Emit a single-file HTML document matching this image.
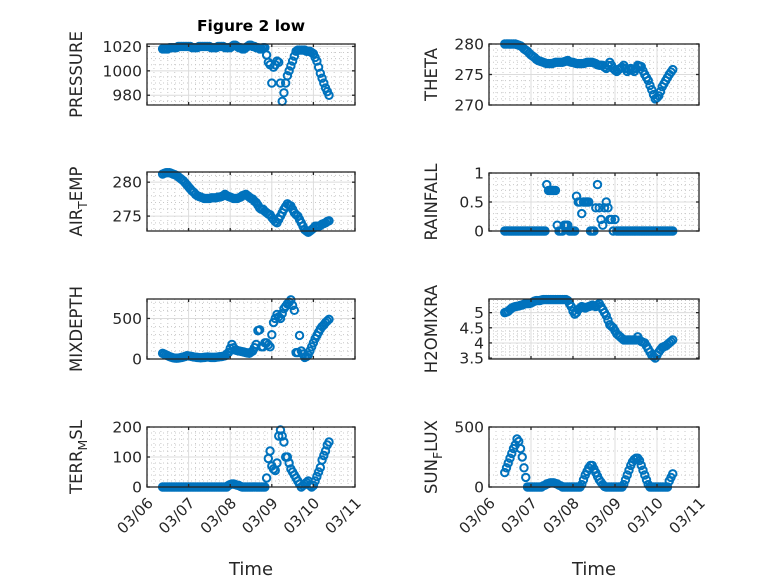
<!DOCTYPE html>
<html><head><meta charset="utf-8"><style>
html,body{margin:0;padding:0;background:#fff;}
svg{display:block;font-family:"DejaVu Sans","Liberation Sans",sans-serif;}
</style></head><body>
<svg id="fig" width="778" height="583" viewBox="0 0 778 583" xmlns="http://www.w3.org/2000/svg">
<rect width="778" height="583" fill="#fff"/>
<text x="251" y="31" text-anchor="middle" font-size="15.5" font-weight="bold" fill="#000">Figure 2 low</text>
</svg>
<script>
const hours = [9,10,11,12,13,14,15,16,17,18,19,20,21,22,23,24,25,26,27,28,29,30,31,32,33,34,35,36,37,38,39,40,41,42,43,44,45,46,47,48,49,50,51,52,53,54,55,56,57,58,59,60,61,62,63,64,65,66,67,68,69,70,71,72,73,74,75,76,77,78,79,80,81,82,83,84,85,86,87,88,89,90,91,92,93,94,95,96,97,98,99,100,101,102,103,104,105];
const xTickLabels = ["03/06","03/07","03/08","03/09","03/10","03/11"];
const pressure = [1018,1018,1018,1018,1019,1019,1019,1019,1019,1020,1020,1020,1020,1020,1020,1020,1020,1019,1019,1019,1019,1020,1020,1020,1020,1020,1020,1020,1019,1019,1019,1019,1020,1020,1020,1020,1019,1019,1019,1019,1020,1021,1021,1020,1019,1019,1018,1018,1019,1020,1021,1021,1020,1020,1019,1019,1018,1018,1019,1019,1013,1007,1005,990,1003,1005,1008,1007,990,975,982,990,996,1000,1004,1008,1012,1016,1017,1017,1017,1017,1017,1016,1016,1016,1015,1014,1011,1008,1003,998,994,990,986,983,980];
const theta = [280,280,280,280,280,280,280,279.9,279.8,279.7,279.5,279.2,279,278.8,278.5,278.2,278,277.8,277.5,277.3,277.2,277.1,277,276.9,276.8,276.8,276.8,276.8,276.9,277,277,277,277,277,277.1,277.2,277.3,277.1,277,277,276.9,276.8,276.8,276.8,276.8,276.8,276.9,277,277,277,277,276.9,276.8,276.6,276.5,276.5,276.5,276.2,276,276.5,277,276.5,276,275.7,275.5,275.8,276,276.2,276.5,276,275.5,275.8,276,275.8,275.5,276,276.5,276.4,276.3,275.6,275,274.5,274,273.2,272.5,271.7,271,271.2,271.5,272.2,273,273.5,274,274.5,275,275.4,275.8];
const airTemp = [281.2,281.3,281.4,281.4,281.4,281.3,281.2,281.1,281,280.8,280.6,280.4,280.2,279.9,279.6,279.3,279,278.7,278.5,278.2,278,277.9,277.8,277.7,277.6,277.6,277.6,277.6,277.7,277.7,277.7,277.7,277.8,277.8,277.9,278,278.2,278,277.9,277.8,277.7,277.6,277.6,277.6,277.7,277.8,278,278.1,278.2,278,277.8,277.6,277.5,277.2,277,276.6,276.2,276,276,275.7,275.5,275.3,275.2,274.8,274.5,274.2,274,274.5,275,275.5,276,276.4,276.8,276.6,276.5,276,275.5,275.2,275,274.5,274,273.5,273,272.8,272.6,272.8,273,273.2,273.5,273.5,273.5,273.6,273.8,273.9,274,274.2,274.3];
const rainfall = [0,0,0,0,0,0,0,0,0,0,0,0,0,0,0,0,0,0,0,0,0,0,0,0,0.8,0.7,0.7,0.7,0.7,0.7,0.1,0,0,0,0.1,0.1,0.1,0,0,0,0,0.6,0.5,0.5,0.3,0.5,0.5,0.5,0.5,0,0,0,0.4,0.8,0.4,0.2,0.1,0.4,0.5,0.4,0.2,0.2,0,0.2,0,0,0,0,0,0,0,0,0,0,0,0,0,0,0,0,0,0,0,0,0,0,0,0,0,0,0,0,0,0,0,0,0];
const mixDepth = [70,60,50,40,30,22,15,12,10,12,15,20,25,32,40,38,35,30,25,22,20,18,15,18,20,22,25,22,20,20,20,22,25,28,30,35,40,60,80,130,180,140,110,105,100,95,90,85,80,75,70,85,100,140,180,350,360,150,150,200,200,175,150,300,450,500,550,520,500,560,620,650,680,700,730,660,600,80,80,290,100,60,20,30,50,100,150,200,250,290,330,370,400,420,450,470,490];
const h2oMix = [5.0,5.02,5.05,5.1,5.15,5.18,5.2,5.21,5.22,5.24,5.25,5.28,5.3,5.3,5.3,5.32,5.35,5.38,5.4,5.4,5.4,5.42,5.43,5.43,5.43,5.43,5.43,5.43,5.43,5.43,5.43,5.43,5.43,5.43,5.43,5.43,5.4,5.3,5.2,5.05,4.95,5.0,5.1,5.15,5.2,5.18,5.15,5.18,5.2,5.22,5.25,5.22,5.2,5.25,5.3,5.2,5.1,5.0,4.9,4.75,4.6,4.55,4.5,4.4,4.3,4.25,4.2,4.15,4.1,4.1,4.1,4.1,4.1,4.1,4.1,4.1,4.2,4.1,4.05,4.02,4.0,3.9,3.8,3.7,3.6,3.55,3.5,3.6,3.7,3.78,3.85,3.88,3.9,3.95,4.0,4.05,4.1];
const terrMsl = [0,0,0,0,0,0,0,0,0,0,0,0,0,0,0,0,0,0,0,0,0,0,0,0,0,0,0,0,0,0,0,0,0,0,0,0,0,0,5,8,10,10,8,6,5,2,0,0,0,0,0,0,0,0,0,0,0,0,0,0,30,95,120,70,60,55,80,170,190,170,150,100,100,80,60,50,40,30,20,10,0,5,10,15,20,5,0,5,20,35,50,65,90,105,120,140,150];
const sunFlux = [120,160,200,240,280,320,350,400,380,320,250,160,80,0,0,0,0,0,0,0,0,0,10,15,25,30,35,35,35,30,25,15,10,0,0,0,0,0,0,0,0,0,0,0,20,60,100,130,160,180,180,150,120,90,60,40,20,5,0,0,0,0,0,0,0,0,0,0,20,60,100,140,180,210,230,240,240,220,180,140,100,60,20,0,0,0,0,0,0,0,0,0,0,0,50,80,110];

const pressureTicks = [980,1000,1020];
const airTicks = [275,280];
const thetaTicks = [270,275,280];
const rainTicks = [0,0.5,1];
const mixTicks = [0,500];
const h2oTicks = [3.5,4,4.5,5];
const terrTicks = [0,100,200];
const sunTicks = [0,500];

const NS='http://www.w3.org/2000/svg';
const svg=document.getElementById('fig');
function mk(tag,attrs,parent){const e=document.createElementNS(NS,tag);for(const k in attrs)e.setAttribute(k,attrs[k]);(parent||svg).appendChild(e);return e;}

const panels=[
 {key:'pressure',label:[['PRESSURE']],vals:pressure,ticks:pressureTicks,lim:[972,1022],minor:5,x0:147,x1:355,y0:44,y1:105,lx:82},
 {key:'theta',label:[['THETA']],vals:theta,ticks:thetaTicks,lim:[270,280],minor:1,x0:489,x1:699,y0:44,y1:105,lx:437},
 {key:'air-temp',label:[['AIR'],['T','sub'],['EMP']],vals:airTemp,ticks:airTicks,lim:[272.8,281.5],minor:1,x0:147,x1:355,y0:172,y1:231,lx:82},
 {key:'rainfall',label:[['RAINFALL']],vals:rainfall,ticks:rainTicks,lim:[0,1],minor:0.1,x0:489,x1:699,y0:173,y1:231,lx:437},
 {key:'mixdepth',label:[['MIXDEPTH']],vals:mixDepth,ticks:mixTicks,lim:[0,740],minor:100,x0:147,x1:355,y0:299,y1:359,lx:82},
 {key:'h2omixra',label:[['H2OMIXRA']],vals:h2oMix,ticks:h2oTicks,lim:[3.47,5.45],minor:0.1,x0:489,x1:699,y0:299,y1:359,lx:437},
 {key:'terr-msl',label:[['TERR'],['M','sub'],['SL']],vals:terrMsl,ticks:terrTicks,lim:[0,200],minor:20,x0:147,x1:355,y0:427,y1:487,lx:82,bottom:true},
 {key:'sun-flux',label:[['SUN'],['F','sub'],['LUX']],vals:sunFlux,ticks:sunTicks,lim:[0,500],minor:100,x0:489,x1:699,y0:427,y1:487,lx:437,bottom:true}
];

panels.forEach(p=>{
 const g=mk('g',{});
 
 
 const xs=d=>p.x0+(d/5)*(p.x1-p.x0);
 const ys=v=>p.y1-(v-p.lim[0])/(p.lim[1]-p.lim[0])*(p.y1-p.y0);
 for(let i=1;i<30;i++){ if(i%6===0) continue; const x=xs(i/6);
  mk('line',{x1:x,x2:x,y1:p.y0,y2:p.y1,stroke:'#c8c8c8','stroke-width':1,'stroke-dasharray':'1,3'},g);}
 const start=Math.ceil(p.lim[0]/p.minor-1e-6);
 for(let k=start;k*p.minor<=p.lim[1]+1e-9;k++){const v=k*p.minor;
  if(p.ticks.some(t=>Math.abs(t-v)<1e-6)) continue; const y=ys(v);
  mk('line',{x1:p.x0,x2:p.x1,y1:y,y2:y,stroke:'#c8c8c8','stroke-width':1,'stroke-dasharray':'1,3'},g);}
 for(let i=1;i<5;i++){const x=xs(i);mk('line',{x1:x,x2:x,y1:p.y0,y2:p.y1,stroke:'#dcdcdc','stroke-width':1},g);}
 p.ticks.forEach(t=>{const y=ys(t);mk('line',{x1:p.x0,x2:p.x1,y1:y,y2:y,stroke:'#dcdcdc','stroke-width':1},g);});
 const dg=mk('g',{fill:'none',stroke:'#0072BD','stroke-width':2},g);
 
 
 const n=Math.min(hours.length,p.vals.length);
 for(let i=0;i<n;i++){
  const c=mk('circle',{cx:xs(hours[i]/24),cy:ys(p.vals[i]),r:3.7},dg);
  
  
 }
 const b=mk('rect',{x:p.x0,y:p.y0,width:p.x1-p.x0,height:p.y1-p.y0,fill:'none',stroke:'#262626','stroke-width':1.3},g);
 
 
 for(let i=0;i<=5;i++){const x=xs(i);
  mk('line',{x1:x,x2:x,y1:p.y1,y2:p.y1-3,stroke:'#262626','stroke-width':1.3},g);
  mk('line',{x1:x,x2:x,y1:p.y0,y2:p.y0+3,stroke:'#262626','stroke-width':1.3},g);
  if(p.bottom){const tx=x+7, ty=p.y1+17;
   const t=mk('text',{x:tx,y:ty,'text-anchor':'end','font-size':15,fill:'#262626',transform:`rotate(-45 ${tx} ${ty})`},g);
   t.textContent=xTickLabels[i];
   
   }
 }
 p.ticks.forEach(tv=>{const y=ys(tv);
  mk('line',{x1:p.x0,x2:p.x0+3,y1:y,y2:y,stroke:'#262626','stroke-width':1.3},g);
  mk('line',{x1:p.x1,x2:p.x1-3,y1:y,y2:y,stroke:'#262626','stroke-width':1.3},g);
  const t=mk('text',{x:p.x0-5,y:y+5.5,'text-anchor':'end','font-size':15.5,fill:'#262626'},g);
  t.textContent=String(tv);
  
  
 });
 const cy=(p.y0+p.y1)/2;
 const lab=mk('text',{x:p.lx,y:cy,'text-anchor':'middle','font-size':16.5,fill:'#262626',transform:`rotate(-90 ${p.lx} ${cy})`},g);
 
 
 p.label.forEach(seg=>{const ts=mk('tspan',{},lab);ts.textContent=seg[0];
  if(seg[1]==='sub'){ts.setAttribute('font-size','12.5');ts.setAttribute('dy','5');}
  else if(lab.childNodes.length>1){ts.setAttribute('dy','-5');}
 });
 if(p.bottom){const tx=mk('text',{x:(p.x0+p.x1)/2,y:575,'text-anchor':'middle','font-size':18,fill:'#262626'},g);
  tx.textContent='Time';
  
  }
});
</script>
</body></html>
